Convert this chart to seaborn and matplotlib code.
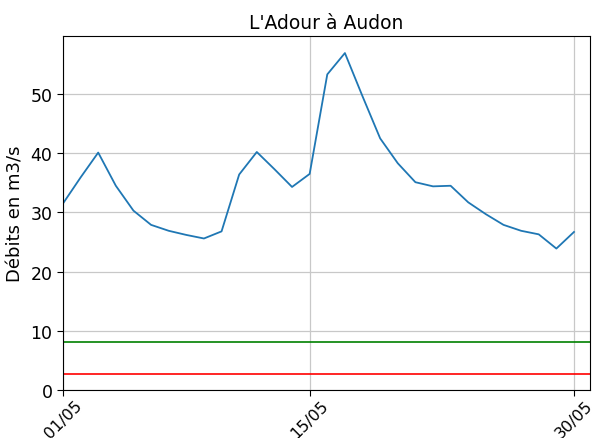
import matplotlib
matplotlib.use("Agg")
import matplotlib.pyplot as plt
import seaborn as sns
import pandas as pd

# Débits journaliers de l'Adour à Audon, mai
jours = list(range(1, 31))
debits = [31.5, 35.9, 40.1, 34.5, 30.3, 27.9, 26.9, 26.2, 25.6, 26.8,
          36.4, 40.2, 37.3, 34.3, 36.5, 53.3, 56.9, 49.6, 42.5, 38.3,
          35.1, 34.4, 34.5, 31.7, 29.7, 27.9, 26.9, 26.3, 23.9, 26.7]

seuil_vert = 8.2
seuil_rouge = 2.7

tick_jours = [1, 15, 30]
tick_labels = ["01/05", "15/05", "30/05"]

df = pd.DataFrame({"jour": jours, "debit": debits})

fig = plt.figure(figsize=(5.94, 4.39), dpi=100)
ax = fig.add_axes([0.106, 0.109, 0.887, 0.807])

sns.lineplot(data=df, x="jour", y="debit", ax=ax, color="#1f77b4", linewidth=1.3)
ax.axhline(seuil_vert, color="green", linewidth=1.2)
ax.axhline(seuil_rouge, color="red", linewidth=1.2)

ax.set_xlim(1, 30.9)
ax.set_ylim(0, 59.8)
ax.set_xticks(tick_jours)
ax.set_xticklabels(tick_labels, rotation=45, fontsize=11.5)
ax.set_yticks([0, 10, 20, 30, 40, 50])
ax.tick_params(axis="y", labelsize=12.5)
ax.tick_params(length=4)
ax.tick_params(axis="x", pad=1)
ax.grid(True, color="#c8c8c8", linewidth=0.9)

ax.set_xlabel("")
ax.set_ylabel("Débits en m3/s", fontsize=13)
ax.set_title("L'Adour à Audon", fontsize=13.5)

fig.savefig("out.png", dpi=100)
